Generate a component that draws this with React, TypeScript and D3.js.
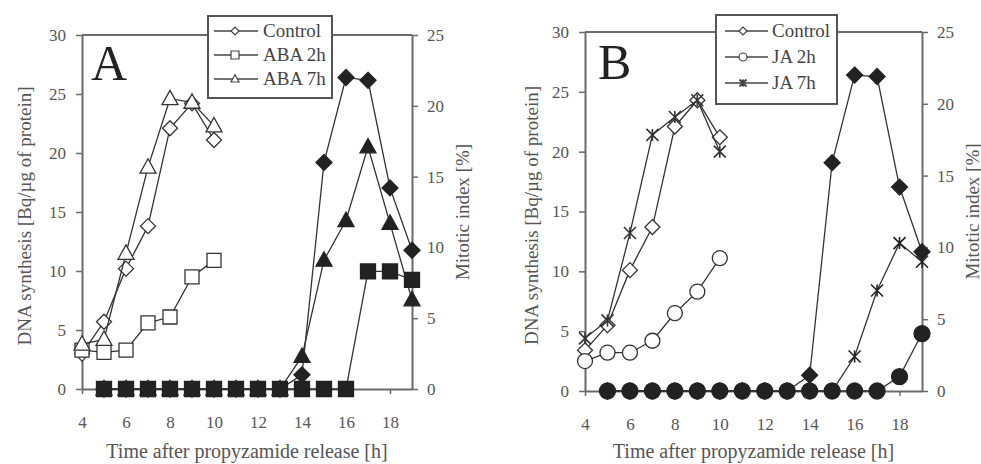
import React, { useEffect, useRef } from 'react';
import * as d3 from 'd3';

// DNA synthesis (left axis), hours 4-10
const dnaHours = [4, 5, 6, 7, 8, 9, 10];
const dnaControlA = [3.0, 5.7, 10.2, 13.8, 22.1, 24.2, 21.1];
const dnaAba2h = [3.3, 3.1, 3.3, 5.6, 6.1, 9.5, 10.9];
const dnaAba7h = [3.8, 4.2, 11.5, 18.8, 24.6, 24.3, 22.3];
const dnaControlB = [3.4, 5.5, 10.1, 13.7, 22.1, 24.3, 21.2];
const dnaJa2h = [2.5, 3.2, 3.2, 4.2, 6.5, 8.3, 11.1];
const dnaJa7h = [4.4, 5.9, 13.2, 21.4, 22.9, 24.3, 20.0];

// Mitotic index (right axis), hours 5-19
const mitHours = [5, 6, 7, 8, 9, 10, 11, 12, 13, 14, 15, 16, 17, 18, 19];
const mitControlA = [0, 0, 0, 0, 0, 0, 0, 0, 0, 1.0, 16.0, 22.0, 21.8, 14.2, 9.8];
const mitAba2h = [0, 0, 0, 0, 0, 0, 0, 0, 0, 0, 0, 0, 8.3, 8.3, 7.7];
const mitAba7h = [0, 0, 0, 0, 0, 0, 0, 0, 0, 2.3, 9.1, 11.9, 17.1, 11.7, 6.3];
const mitControlB = [0, 0, 0, 0, 0, 0, 0, 0, 0, 1.1, 15.9, 22.0, 21.9, 14.2, 9.7];
const mitJa2h = [0, 0, 0, 0, 0, 0, 0, 0, 0, 0, 0, 0, 0, 1.0, 4.0];
const mitJa7h = [0, 0, 0, 0, 0, 0, 0, 0, 0, 0, 0, 2.4, 7.0, 10.3, 9.0];

const xTicks = [4, 6, 8, 10, 12, 14, 16, 18];
const leftTicks = [0, 5, 10, 15, 20, 25, 30];
const rightTicks = [0, 5, 10, 15, 20, 25];

const FONT = '"Liberation Serif", "Times New Roman", serif';
const INK = '#333';

function markerPath(shape, cx, cy, r) {
  const p = d3.path();
  if (shape === 'diamond') {
    p.moveTo(cx, cy - r); p.lineTo(cx + r, cy); p.lineTo(cx, cy + r); p.lineTo(cx - r, cy); p.closePath();
  } else if (shape === 'square') {
    p.rect(cx - r, cy - r, 2 * r, 2 * r);
  } else if (shape === 'triangle') {
    p.moveTo(cx, cy - r * 1.05); p.lineTo(cx + r, cy + r * 0.75); p.lineTo(cx - r, cy + r * 0.75); p.closePath();
  } else if (shape === 'circle') {
    p.arc(cx, cy, r, 0, 2 * Math.PI);
  } else if (shape === 'star') {
    p.moveTo(cx - r, cy - r); p.lineTo(cx + r, cy + r);
    p.moveTo(cx + r, cy - r); p.lineTo(cx - r, cy + r);
    p.moveTo(cx, cy - r); p.lineTo(cx, cy + r);
  }
  return p.toString();
}

const panels = [
  {
    letter: 'A', left: 82, right: 412, top: 35, bottom: 389, letterX: 91, letterY: 80,
    yLabelX: 24, rLabelX: 462,
    legend: { x: 208, y: 16, w: 124, h: 82, rows: [31, 55, 79], l1: 214, l2: 258, mx: 235, tx: 263 },
    series: [
      { name: 'Control', shape: 'diamond', xs: dnaHours, ys: dnaControlA, axis: 'left', filled: false, r: 7.5 },
      { name: 'ABA 2h', shape: 'square', xs: dnaHours, ys: dnaAba2h, axis: 'left', filled: false, r: 7 },
      { name: 'ABA 7h', shape: 'triangle', xs: dnaHours, ys: dnaAba7h, axis: 'left', filled: false, r: 8 },
      { shape: 'diamond', xs: mitHours, ys: mitControlA, axis: 'right', filled: true, r: 8 },
      { shape: 'triangle', xs: mitHours, ys: mitAba7h, axis: 'right', filled: true, r: 8 },
      { shape: 'square', xs: mitHours, ys: mitAba2h, axis: 'right', filled: true, r: 7.5 },
    ],
  },
  {
    letter: 'B', left: 585, right: 922, top: 32, bottom: 391, letterX: 598, letterY: 79,
    yLabelX: 531, rLabelX: 972,
    legend: { x: 716, y: 15, w: 121, h: 89, rows: [31, 57, 83], l1: 725, l2: 768, mx: 743, tx: 772 },
    series: [
      { name: 'Control', shape: 'diamond', xs: dnaHours, ys: dnaControlB, axis: 'left', filled: false, r: 7.5 },
      { name: 'JA 2h', shape: 'circle', xs: dnaHours, ys: dnaJa2h, axis: 'left', filled: false, r: 7.5 },
      { name: 'JA 7h', shape: 'star', xs: dnaHours, ys: dnaJa7h, axis: 'left', filled: false, r: 6 },
      { shape: 'diamond', xs: mitHours, ys: mitControlB, axis: 'right', filled: true, r: 8 },
      { shape: 'star', xs: mitHours, ys: mitJa7h, axis: 'right', filled: true, r: 6 },
      { shape: 'circle', xs: mitHours, ys: mitJa2h, axis: 'right', filled: true, r: 8 },
    ],
  },
];

function App() {
  const svgRef = useRef(null);

  useEffect(() => {
    const svg = d3.select(svgRef.current);
    svg.selectAll('*').remove();

    panels.forEach(pn => {
      const g = svg.append('g');
      const x = d3.scaleLinear().domain([4, 19]).range([pn.left, pn.right]);
      const yL = d3.scaleLinear().domain([0, 30]).range([pn.bottom, pn.top]);
      const yR = d3.scaleLinear().domain([0, 25]).range([pn.bottom, pn.top]);

      // top border
      g.append('line')
        .attr('x1', pn.left).attr('x2', pn.right).attr('y1', pn.top).attr('y2', pn.top)
        .attr('stroke', '#6a6a6a').attr('stroke-width', 2);

      const styleAxis = sel => {
        sel.select('.domain').attr('stroke', '#6a6a6a').attr('stroke-width', 2);
        sel.selectAll('.tick line').attr('stroke', '#6a6a6a').attr('stroke-width', 1.5);
        sel.selectAll('.tick text').attr('fill', '#555').attr('font-size', 17).attr('font-family', FONT);
      };

      g.append('g')
        .attr('transform', `translate(0,${pn.bottom})`)
        .call(d3.axisBottom(x).tickValues(xTicks).tickSize(5).tickSizeOuter(0).tickPadding(22))
        .call(styleAxis);
      g.append('g')
        .attr('transform', `translate(${pn.left},0)`)
        .call(d3.axisLeft(yL).tickValues(leftTicks).tickSize(6).tickSizeOuter(0).tickPadding(10))
        .call(styleAxis);
      g.append('g')
        .attr('transform', `translate(${pn.right},0)`)
        .call(d3.axisRight(yR).tickValues(rightTicks).tickSize(6).tickSizeOuter(0).tickPadding(9))
        .call(styleAxis);

      // series
      pn.series.forEach(s => {
        const y = s.axis === 'left' ? yL : yR;
        const pts = s.xs.map((h, i) => [x(h), y(s.ys[i])]);
        g.append('path')
          .attr('d', d3.line()(pts))
          .attr('fill', 'none')
          .attr('stroke', INK)
          .attr('stroke-width', 1.3);
        g.selectAll(null)
          .data(pts)
          .join('path')
          .attr('d', d => markerPath(s.shape, d[0], d[1], s.r))
          .attr('fill', s.shape === 'star' ? 'none' : s.filled ? '#222' : '#fff')
          .attr('stroke', s.filled ? '#222' : INK)
          .attr('stroke-width', s.shape === 'star' ? 1.6 : 1.3);
      });

      // panel letter
      g.append('text')
        .attr('x', pn.letterX).attr('y', pn.letterY)
        .attr('font-family', FONT).attr('font-size', 50).attr('fill', '#222')
        .text(pn.letter);

      // legend
      const lg = pn.legend;
      g.append('rect')
        .attr('x', lg.x).attr('y', lg.y).attr('width', lg.w).attr('height', lg.h)
        .attr('fill', '#fff').attr('stroke', '#555').attr('stroke-width', 2);
      pn.series.filter(s => s.name).forEach((s, i) => {
        const ry = lg.rows[i];
        g.append('line')
          .attr('x1', lg.l1).attr('x2', lg.l2).attr('y1', ry).attr('y2', ry)
          .attr('stroke', '#444').attr('stroke-width', 1.3);
        g.append('path')
          .attr('d', markerPath(s.shape, lg.mx, ry, s.shape === 'star' ? 3.5 : 4))
          .attr('fill', s.shape === 'star' ? 'none' : '#fff')
          .attr('stroke', '#444').attr('stroke-width', s.shape === 'star' ? 2 : 1.2);
        g.append('text')
          .attr('x', lg.tx).attr('y', ry + 6)
          .attr('font-family', FONT).attr('font-size', 19).attr('fill', '#444')
          .text(s.name);
      });

      // axis titles
      const midY = (pn.top + pn.bottom) / 2;
      g.append('text')
        .attr('transform', `translate(${pn.yLabelX},${midY + 4}) rotate(-90)`)
        .attr('text-anchor', 'middle').attr('dominant-baseline', 'central')
        .attr('font-family', FONT).attr('font-size', 19).attr('fill', '#555')
        .text('DNA synthesis [Bq/µg of protein]');
      g.append('text')
        .attr('transform', `translate(${pn.rLabelX},${midY}) rotate(-90)`)
        .attr('text-anchor', 'middle').attr('dominant-baseline', 'central')
        .attr('font-family', FONT).attr('font-size', 19).attr('fill', '#555')
        .text('Mitotic index [%]');
      g.append('text')
        .attr('x', (pn.left + pn.right) / 2).attr('y', 458)
        .attr('text-anchor', 'middle')
        .attr('font-family', FONT).attr('font-size', 20).attr('fill', '#555')
        .text('Time after propyzamide release [h]');
    });
  }, []);

  return (
    <svg ref={svgRef} width={981} height={464}
      style={{ position: 'absolute', left: 0, top: 0, background: '#fff' }} />
  );
}

export default App;
